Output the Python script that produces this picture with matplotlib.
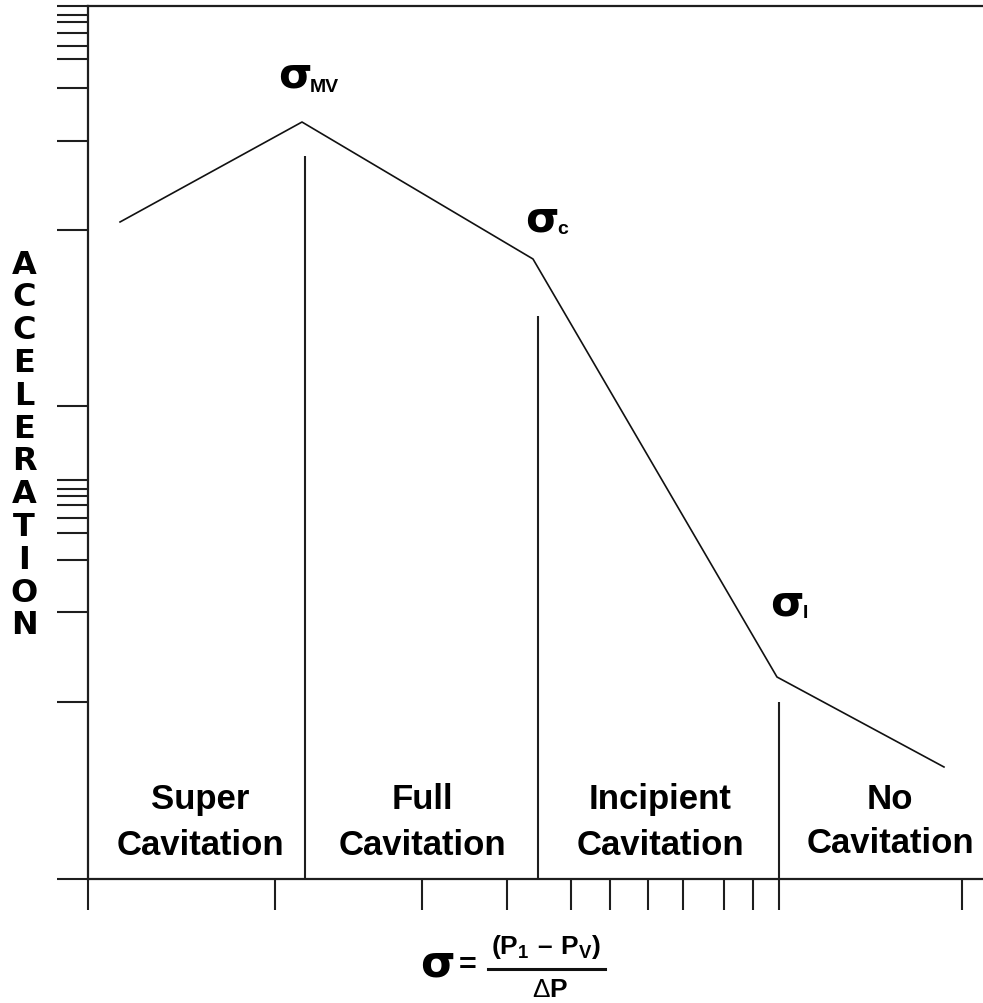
import matplotlib
matplotlib.use('Agg')
import matplotlib.pyplot as plt
from matplotlib.lines import Line2D

plt.rcParams['mathtext.fontset'] = 'custom'
plt.rcParams['mathtext.rm'] = 'Liberation Sans'
plt.rcParams['mathtext.bf'] = 'Liberation Sans:bold'

W, H = 983, 1004

# sigma axis and acceleration axis, both scaled 0-100 across the plot box
x_ticks = [0, 20.89, 37.32, 46.82, 53.97, 58.32, 62.57, 66.48, 71.06, 74.30, 77.21, 97.65]
y_ticks = [0, 20.27, 30.58, 36.54, 39.63, 41.35, 42.84, 43.87, 44.67, 45.70,
           54.18, 74.34, 84.54, 90.61, 93.93, 95.42, 96.91, 98.17, 98.97, 100]

# acceleration vs sigma curve
curve_sigma = [3.58, 23.91, 49.72, 76.98, 95.64]
curve_accel = [75.26, 86.71, 71.02, 23.14, 12.83]

# boundaries sigma_MV, sigma_C, sigma_I
boundary_sigma = [24.25, 50.28, 77.21]
boundary_top = [82.82, 64.49, 20.27]

regions = ['Super', 'Full', 'Incipient', 'No']
region_x = [200, 422, 660, 890]
ylabel = 'ACCELERATION'

ink = '#1e1e1e'


def fx(px):
    return px / W


def fy(py):
    return 1 - py / H


fig = plt.figure(figsize=(W / 100, H / 100), dpi=100)
ax = fig.add_axes([fx(88), fy(880), (983 - 88) / W, (880 - 7) / H])
ax.set_xlim(0, 100)
ax.set_ylim(0, 100)

for side in ['top', 'left', 'bottom']:
    ax.spines[side].set_linewidth(1.6)
    ax.spines[side].set_color(ink)
ax.spines['right'].set_visible(False)

ax.set_xticks(x_ticks)
ax.set_yticks(y_ticks)
ax.tick_params(axis='x', direction='out', length=22.5, width=1.5, color=ink,
               labelbottom=False)
ax.tick_params(axis='y', direction='out', length=22.3, width=1.5, color=ink,
               labelleft=False)

ax.plot(curve_sigma, curve_accel, color='#111111', lw=1.2)
ax.vlines(boundary_sigma, 0, boundary_top, color=ink, lw=1.5)

# region names
for name, cx in zip(regions, region_x):
    top_y = 809
    bot_y = 853 if name == 'No' else 855
    fig.text(fx(cx), fy(top_y), name, ha='center', va='baseline',
             fontsize=25, fontweight='bold', family='Liberation Sans')
    fig.text(fx(cx), fy(bot_y), 'Cavitation', ha='center', va='baseline',
             fontsize=25, fontweight='bold', family='Liberation Sans')

# sigma markers
sig_labels = [(278, 88, 'MV', 310, 92), (525, 232, 'c', 557, 234), (770, 616, 'I', 803, 618)]
for sx, sy, sub, bx, by in sig_labels:
    fig.text(fx(sx), fy(sy), 'σ', ha='left', va='baseline', fontsize=31,
             fontweight='bold', family='DejaVu Sans')
    fig.text(fx(bx), fy(by), sub, ha='left', va='baseline', fontsize=14,
             fontweight='bold', family='Liberation Sans')

# vertical axis title, one letter per line
for i, ch in enumerate(ylabel):
    fig.text(fx(24), fy(265 + i * 32.8), ch, ha='center', va='center',
             fontsize=23, fontweight='bold', family='DejaVu Sans')

# sigma definition under the axis
fig.text(fx(420), fy(977), 'σ', ha='left', va='baseline', fontsize=32,
         fontweight='bold', family='DejaVu Sans')
fig.text(fx(468), fy(966), '=', ha='center', va='center', fontsize=22,
         fontweight='bold', family='Liberation Sans')
fig.text(fx(546), fy(954), r'$\mathbf{(P_1\ \endash\ P_V)}$', ha='center', va='baseline',
         fontsize=19)
fig.add_artist(Line2D([fx(488), fx(605)], [fy(970), fy(970)], color='#111111',
                      lw=2.2, transform=fig.transFigure))
fig.text(fx(550), fy(997), r'$\Delta\mathbf{P}$', ha='center', va='baseline',
         fontsize=19)

fig.savefig('out.png', dpi=100)
